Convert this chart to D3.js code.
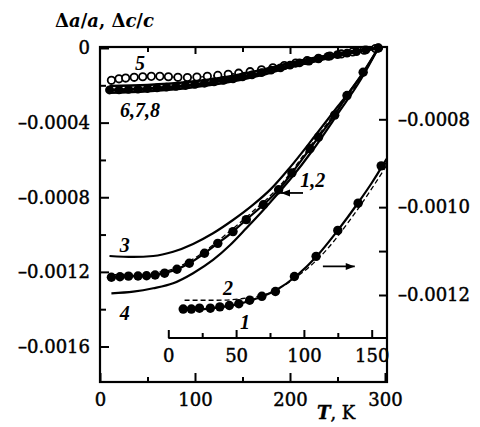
<!DOCTYPE html>
<html>
<head>
<meta charset="utf-8">
<script src="https://cdn.jsdelivr.net/npm/d3@7"></script>
<style>
  body { margin: 0; background: #fff; }
  svg { display: block; }
  .tick text { font-family: "DejaVu Serif", serif; font-size: 18px; fill: #000; stroke: #000; stroke-width: 0.45px; }
</style>
</head>
<body>
<svg id="chart" width="480" height="427"></svg>
<script>
// ---- data ----------------------------------------------------------------
// Main panel (left axis): temperature T (K) and relative change
const mainDotsT = [12, 21, 30, 40, 49, 58, 68, 81, 94, 110, 124, 140, 154, 172, 188, 202, 221, 230, 247, 260, 277, 293];
const mainDotsV = [-0.001229, -0.001226, -0.001223, -0.001222, -0.001221, -0.001217, -0.001207, -0.001186, -0.001154, -0.001100,
                   -0.001047, -0.000984, -0.000920, -0.000840, -0.000760, -0.000670, -0.000540, -0.000478, -0.000360, -0.000255,
                   -0.000130, 0];

const curve2T = [12, 40, 70, 100, 130, 160, 190, 220, 250, 275, 293];
const curve2V = [-0.001215, -0.001210, -0.001195, -0.001125, -0.001010, -0.000880, -0.000735, -0.000535, -0.000330, -0.000160, 0];

const curve3T = [10, 35, 56, 77, 98, 119, 140, 161, 180, 200, 225, 250, 275, 293];
const curve3V = [-0.001115, -0.001120, -0.001115, -0.001092, -0.001050, -0.000993, -0.000922, -0.000841, -0.000755, -0.000640,
                 -0.000480, -0.000315, -0.000150, 0];

const curve4T = [12, 35, 56, 77, 98, 119, 137, 154, 172, 186, 200, 225, 250, 275, 293];
const curve4V = [-0.001315, -0.001306, -0.001288, -0.001261, -0.001207, -0.001136, -0.001056, -0.000966, -0.000868, -0.000788,
                 -0.000705, -0.000540, -0.000355, -0.000165, 0];

const curve5T = [12, 20, 27, 36, 45, 54, 63, 72, 82, 92, 102, 113, 124, 135, 146, 158, 170, 182, 194, 206, 218, 230, 242, 254, 266, 278, 290];
const curve5V = [-0.000173, -0.000165, -0.000161, -0.000157, -0.000154, -0.000152, -0.000152, -0.000154, -0.000157, -0.000158,
                 -0.000156, -0.000152, -0.000147, -0.000141, -0.000135, -0.000127, -0.000117, -0.000106, -0.000094, -0.000081,
                 -0.000068, -0.000055, -0.000043, -0.000032, -0.000021, -0.000012, -0.000003];

const curve6T = [10, 50, 90, 130, 170, 200, 230, 260, 293];
const curve6V = [-0.000204, -0.000198, -0.000184, -0.000158, -0.000118, -0.000081, -0.000049, -0.000021, 0];

const curve7T = [10, 20, 30, 40, 50, 60, 70, 80, 90, 100, 110, 120, 130, 140, 150, 160, 170, 180, 190, 200, 210, 220, 230, 240, 250, 260, 270, 280, 293];
const curve7V = [-0.000225, -0.000224, -0.000222, -0.000220, -0.000217, -0.000214, -0.000210, -0.000206, -0.000201, -0.000195,
                 -0.000189, -0.000182, -0.000174, -0.000165, -0.000155, -0.000144, -0.000132, -0.000119, -0.000106, -0.000092,
                 -0.000080, -0.000070, -0.000058, -0.000045, -0.000036, -0.000027, -0.000019, -0.000010, 0];

const curve8T = [10, 50, 90, 130, 170, 200, 230, 260, 293];
const curve8V = [-0.000240, -0.000231, -0.000215, -0.000188, -0.000145, -0.000102, -0.000067, -0.000032, 0];

// Inset (right axis, own T axis 0-150 K)
const insetDotsT = [11, 17, 23, 31, 38, 45, 52, 60, 69, 79, 93, 109, 125, 140, 157];
const insetDotsV = [-0.001232, -0.001232, -0.001230, -0.001230, -0.001227, -0.001224, -0.001220, -0.001212, -0.001203, -0.001192,
                    -0.001158, -0.001112, -0.001053, -0.000991, -0.000906];

const inset1T = [10, 30, 50, 65, 80, 95, 110, 125, 140, 150, 161];
const inset1V = [-0.001234, -0.001231, -0.001222, -0.001208, -0.001188, -0.001155, -0.001110, -0.001053, -0.000990, -0.000945, -0.000890];

const inset2T = [12, 35, 55, 75, 95, 115, 135, 150, 161];
const inset2V = [-0.001212, -0.001212, -0.001208, -0.001195, -0.001158, -0.001103, -0.001025, -0.000958, -0.000905];

// Tick values
const xMajor = [0, 100, 200, 300];
const xMinor = [50, 150, 250];
const yLeftMajor = [0, -0.0004, -0.0008, -0.0012, -0.0016];
const yLeftMinor = [-0.0002, -0.0006, -0.0010, -0.0014];
const yRightMajor = [-0.0008, -0.0010, -0.0012];
const yRightMinor = [-0.0009, -0.0011];
const insetMajor = [0, 50, 100, 150];
const insetMinor = [25, 75, 125];

// ---- layout ----------------------------------------------------------------
const svg = d3.select("#chart");
const box = { left: 100, right: 387, top: 47, bottom: 382 };

const x = d3.scaleLinear().domain([0, 300]).range([100, 385]);
const yL = d3.scaleLinear().domain([0, -0.0016]).range([48, 346.5]);
const yR = d3.scaleLinear().domain([-0.0008, -0.0012]).range([119.3, 295]);
const xIn = d3.scaleLinear().domain([0, 150]).range([168.3, 371.7]);

const fmt = v => v === 0 ? "0" : "\u2013" + Math.abs(v).toFixed(4);

function style(g) {
  g.select(".domain").remove();
  g.selectAll(".tick line").attr("stroke", "#000").attr("stroke-width", 2);
}

// frame
svg.append("rect")
  .attr("x", box.left).attr("y", box.top)
  .attr("width", box.right - box.left).attr("height", box.bottom - box.top)
  .attr("fill", "none").attr("stroke", "#000").attr("stroke-width", 2.2);

// bottom axis
svg.append("g").attr("transform", `translate(0,${box.bottom})`)
  .call(d3.axisBottom(x).tickValues(xMajor).tickFormat(d3.format("d")).tickSize(-9).tickPadding(11)).call(style);
svg.append("g").attr("transform", `translate(0,${box.bottom})`)
  .call(d3.axisBottom(x).tickValues(xMinor).tickFormat("").tickSize(-5)).call(style);
// top ticks
svg.append("g").attr("transform", `translate(0,${box.top})`)
  .call(d3.axisTop(x).tickValues([100, 200]).tickFormat("").tickSize(-7)).call(style);
svg.append("g").attr("transform", `translate(0,${box.top})`)
  .call(d3.axisTop(x).tickValues(xMinor).tickFormat("").tickSize(-5)).call(style);

// left axis
svg.append("g").attr("transform", `translate(${box.left},0)`)
  .call(d3.axisLeft(yL).tickValues(yLeftMajor).tickFormat(fmt).tickSize(-9).tickPadding(10)).call(style);
svg.append("g").attr("transform", `translate(${box.left},0)`)
  .call(d3.axisLeft(yL).tickValues(yLeftMinor).tickFormat("").tickSize(-6)).call(style);

// right axis (inset scale)
svg.append("g").attr("transform", `translate(${box.right},0)`)
  .call(d3.axisRight(yR).tickValues(yRightMajor).tickFormat(fmt).tickSize(-8).tickPadding(11)).call(style);
svg.append("g").attr("transform", `translate(${box.right},0)`)
  .call(d3.axisRight(yR).tickValues(yRightMinor).tickFormat("").tickSize(-8)).call(style);

// inset T axis
const insetY = 338;
svg.append("line").attr("x1", xIn(0)).attr("x2", box.right).attr("y1", insetY).attr("y2", insetY)
  .attr("stroke", "#000").attr("stroke-width", 2);
svg.append("g").attr("transform", `translate(0,${insetY})`)
  .call(d3.axisBottom(xIn).tickValues(insetMajor).tickFormat(d3.format("d")).tickSize(-8).tickPadding(11)).call(style);
svg.append("g").attr("transform", `translate(0,${insetY})`)
  .call(d3.axisBottom(xIn).tickValues(insetMinor).tickFormat("").tickSize(-5)).call(style);

// ---- curves ----------------------------------------------------------------
const pts = (T, V) => T.map((t, i) => [t, V[i]]);
const lineL = d3.line().x(d => x(d[0])).y(d => yL(d[1])).curve(d3.curveMonotoneX);
const lineR = d3.line().x(d => xIn(d[0])).y(d => yR(d[1])).curve(d3.curveMonotoneX);

function path(gen, data, width, dash) {
  svg.append("path").attr("d", gen(data)).attr("fill", "none")
    .attr("stroke", "#000").attr("stroke-width", width)
    .attr("stroke-dasharray", dash || null);
}

// curve 5: open circles
path(lineL, pts(curve5T, curve5V), 1.2, "3,3");
svg.append("g").selectAll("circle").data(pts(curve5T, curve5V)).join("circle")
  .attr("cx", d => x(d[0])).attr("cy", d => yL(d[1])).attr("r", 3.7)
  .attr("fill", "#fff").attr("stroke", "#000").attr("stroke-width", 1.8);

// curves 6, 7, 8
path(lineL, pts(curve6T, curve6V), 2.6);
path(lineL, pts(curve8T, curve8V), 2.6);
path(lineL, pts(curve7T, curve7V), 3);
svg.append("g").selectAll("circle").data(pts(curve7T, curve7V)).join("circle")
  .attr("cx", d => x(d[0])).attr("cy", d => yL(d[1])).attr("r", 4.4).attr("fill", "#000");

// curves 3, 4, 1, 2
path(lineL, pts(curve3T, curve3V), 2.2);
path(lineL, pts(curve4T, curve4V), 2.2);
path(lineL, pts(mainDotsT, mainDotsV), 2.2);
path(lineL, pts(curve2T, curve2V), 1.3, "5,3");
svg.append("g").selectAll("circle").data(pts(mainDotsT, mainDotsV)).join("circle")
  .attr("cx", d => x(d[0])).attr("cy", d => yL(d[1])).attr("r", 4.7).attr("fill", "#000");

// inset curves
path(lineR, pts(inset1T, inset1V), 2.2);
path(lineR, pts(inset2T, inset2V), 1.3, "5,3");
svg.append("g").selectAll("circle").data(pts(insetDotsT, insetDotsV)).join("circle")
  .attr("cx", d => xIn(d[0])).attr("cy", d => yR(d[1])).attr("r", 4.7).attr("fill", "#000");

// ---- annotations -----------------------------------------------------------
function label(px, py, txt, size) {
  svg.append("text").attr("x", px).attr("y", py).attr("text-anchor", "middle")
    .attr("dominant-baseline", "central")
    .attr("font-family", "Liberation Serif, serif").attr("font-style", "italic").attr("font-weight", "bold")
    .attr("font-size", size || 20).text(txt);
}
label(x(26), yL(-0.001056), "3");
label(x(26), yL(-0.00142), "4");
label(x(42), yL(-0.00008), "5");
label(x(42), yL(-0.000332), "6,7,8");
label(x(224), yL(-0.000707), "1,2");
label(xIn(44), yR(-0.001183), "2");
label(xIn(56.6), yR(-0.001261), "1", 20);

function arrow(x1, x2, yy) {
  svg.append("line").attr("x1", x1).attr("x2", x2).attr("y1", yy).attr("y2", yy)
    .attr("stroke", "#000").attr("stroke-width", 1.8);
  const dir = Math.sign(x2 - x1);
  svg.append("path")
    .attr("d", `M${x2},${yy} L${x2 - dir * 9},${yy - 3.5} L${x2 - dir * 9},${yy + 3.5} Z`)
    .attr("fill", "#000");
}
arrow(x(213.7), x(190.5), yL(-0.000777));
arrow(xIn(114), xIn(137.5), yR(-0.001135));

// axis titles
const title = svg.append("text").attr("x", 55).attr("y", 27)
  .attr("font-family", "DejaVu Serif, serif").attr("font-weight", "bold").attr("font-size", 18);
title.append("tspan").text("\u0394");
title.append("tspan").attr("font-style", "italic").text("a");
title.append("tspan").text("/");
title.append("tspan").attr("font-style", "italic").text("a");
title.append("tspan").text(", \u0394");
title.append("tspan").attr("font-style", "italic").text("c");
title.append("tspan").text("/");
title.append("tspan").attr("font-style", "italic").text("c");

const tk = svg.append("text").attr("x", 317).attr("y", 419)
  .attr("font-family", "DejaVu Serif, serif").attr("font-size", 18)
  .attr("stroke", "#000").attr("stroke-width", 0.45);
tk.append("tspan").attr("font-style", "italic").attr("font-weight", "bold").text("T");
tk.append("tspan").text(", K");
</script>
</body>
</html>
